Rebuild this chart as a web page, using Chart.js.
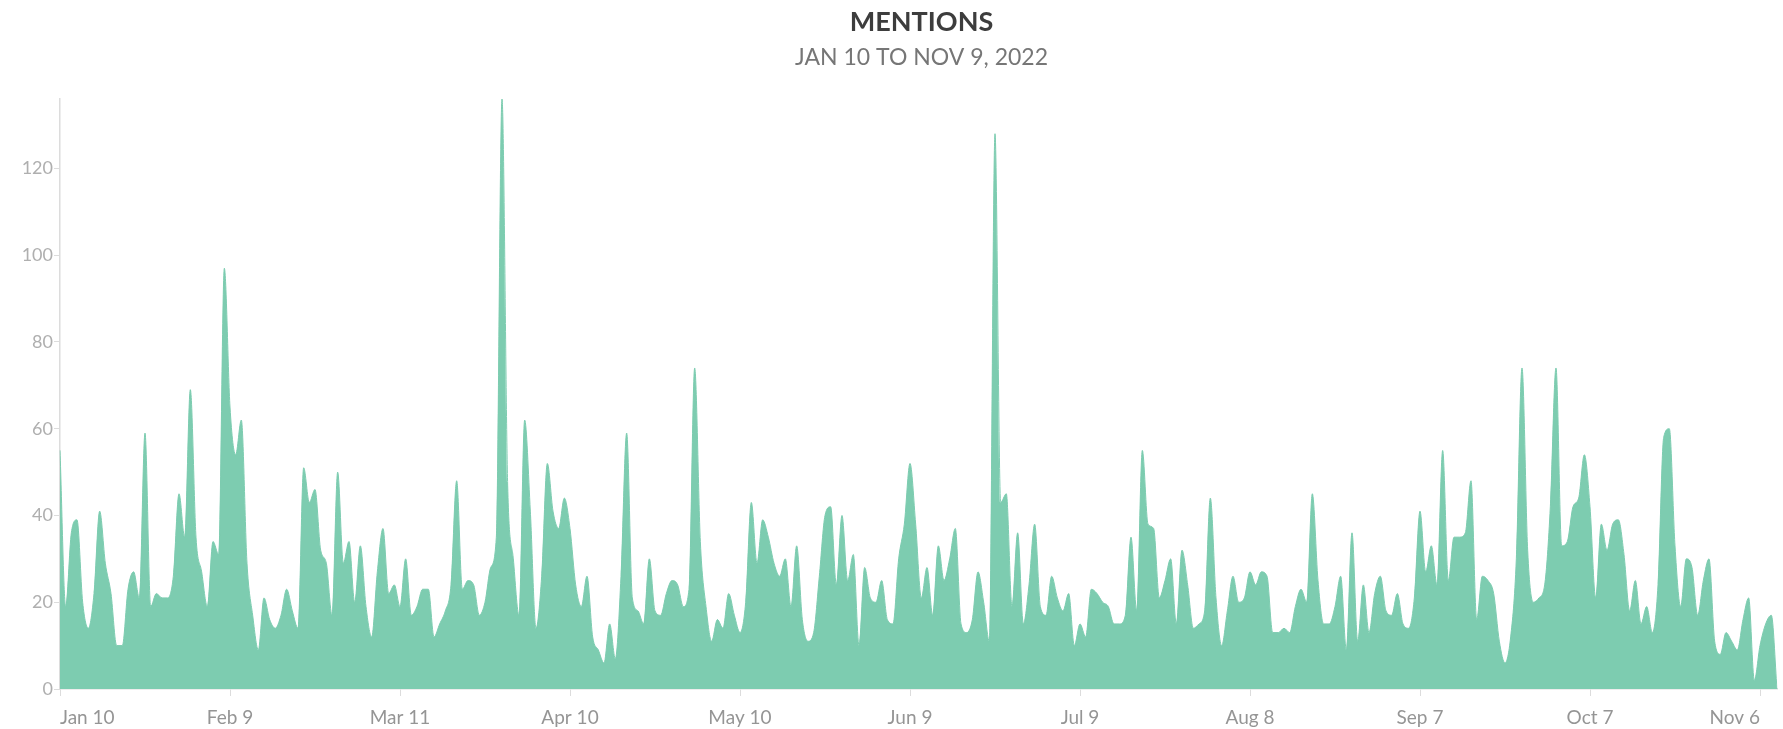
<!DOCTYPE html>
<html>
<head>
<meta charset="utf-8">
<title>Mentions</title>
<script src="https://cdn.jsdelivr.net/npm/chart.js@4.4.1/dist/chart.umd.min.js"></script>
<style>
  html, body { margin: 0; padding: 0; background: #fff; }
  #wrap { width: 1783px; height: 729px; }
</style>
</head>
<body>
<div id="wrap"><canvas id="chart"></canvas></div>
<script>
// daily mentions, Jan 10 -> Nov 9 2022, one array per month
const jan = [55, 19, 36, 39, 20, 14, 22, 41, 29, 22, 10, 10, 23, 27, 21, 59, 19, 22, 21, 21, 26, 45];
const feb = [35, 69, 35, 27, 19, 34, 31, 97, 65, 54, 62, 29, 17, 9, 21, 16, 14, 17, 23, 18, 14, 51, 43, 46, 32, 29, 17, 50];
const mar = [29, 34, 20, 33, 19, 12, 27, 37, 22, 24, 19, 30, 17, 19, 23, 23, 12, 15, 18, 24, 48, 23, 25, 24, 17, 20, 28, 35, 136, 47, 30];
const apr = [17, 62, 41, 14, 26, 52, 41, 37, 44, 37, 24, 19, 26, 12, 9, 6, 15, 7, 26, 59, 21, 18, 15, 30, 18, 17, 22, 25, 24, 19];
const may = [23, 74, 34, 19, 11, 16, 14, 22, 17, 13, 20, 43, 29, 39, 35, 29, 26, 30, 19, 33, 16, 11, 13, 26, 40, 42, 24, 40, 25, 31, 10];
const jun = [28, 21, 20, 25, 16, 15, 30, 38, 52, 38, 21, 28, 17, 33, 25, 30, 37, 15, 13, 16, 27, 20, 11, 128, 43, 45, 19, 36, 15, 24];
const jul = [38, 19, 17, 26, 21, 18, 22, 10, 15, 12, 23, 22, 20, 19, 15, 15, 17, 35, 18, 55, 38, 37, 21, 25, 30, 15, 32, 24, 14, 15, 18];
const aug = [44, 21, 10, 18, 26, 20, 21, 27, 24, 27, 26, 13, 13, 14, 13, 19, 23, 20, 45, 25, 15, 15, 19, 26, 9, 36, 11, 24, 13, 22, 26];
const sep = [18, 17, 22, 15, 14, 21, 41, 27, 33, 24, 55, 25, 35, 35, 36, 48, 16, 26, 25, 22, 11, 6, 12, 30, 74, 32, 20, 21, 24, 42];
const oct = [74, 33, 34, 42, 44, 54, 42, 21, 38, 32, 38, 39, 31, 18, 25, 15, 19, 13, 24, 58, 60, 33, 19, 30, 28, 17, 25, 30, 11, 8, 13];
const nov = [11, 9, 16, 21, 2, 10, 15, 17, 0];

const mentions = [].concat(jan, feb, mar, apr, may, jun, jul, aug, sep, oct, nov);

// one label per day
const start = new Date(2022, 0, 10);
const days = mentions.map((_, i) => {
  const d = new Date(start);
  d.setDate(start.getDate() + i);
  return d.toLocaleDateString('en-US', { month: 'short', day: 'numeric' });
});

// axis labels every 30 days
const tickLabels = ['Jan 10', 'Feb 9', 'Mar 11', 'Apr 10', 'May 10', 'Jun 9', 'Jul 9', 'Aug 8', 'Sep 7', 'Oct 7', 'Nov 6'];
const tickEvery = 30;
const yTicks = [0, 20, 40, 60, 80, 100, 120];

const green = '#7dccb0';
const axisGrey = '#dcdcdc';

// center the title and subtitle on the plot area instead of the canvas
const centerTitles = {
  id: 'centerTitles',
  afterLayout(chart) {
    const area = chart.chartArea;
    chart.boxes.forEach(b => {
      if (b.position === 'top' && b.options && b.options.text !== undefined) {
        b.left = area.left + 3;
        b.right = area.right + 3;
      }
    });
  }
};

new Chart(document.getElementById('chart'), {
  type: 'line',
  data: {
    labels: days,
    datasets: [{
      label: 'Mentions',
      data: mentions,
      fill: 'origin',
      backgroundColor: green,
      borderColor: green,
      borderWidth: 1,
      pointRadius: 0,
      cubicInterpolationMode: 'monotone'
    }]
  },
  plugins: [centerTitles],
  options: {
    responsive: true,
    maintainAspectRatio: false,
    animation: false,
    layout: { padding: { top: 0, right: 6, bottom: 0, left: 0 } },
    plugins: {
      legend: { display: false },
      tooltip: { enabled: false },
      title: {
        display: true,
        text: 'MENTIONS',
        color: '#3d3d3d',
        font: { family: 'Lato', size: 27, weight: 'bold', lineHeight: 1.2 },
        padding: { top: 6, bottom: 0 }
      },
      subtitle: {
        display: true,
        text: 'JAN 10 TO NOV 9, 2022',
        color: '#767676',
        font: { family: 'Lato', size: 23, lineHeight: 1.2 },
        padding: { top: 5, bottom: 28 }
      }
    },
    scales: {
      x: {
        type: 'category',
        grid: { drawOnChartArea: false, drawTicks: true, tickLength: 7, color: axisGrey },
        border: { display: true, color: axisGrey, width: 1.5 },
        afterBuildTicks: (scale) => {
          scale.ticks = scale.ticks.filter(t => t.value % tickEvery === 0);
        },
        afterFit: (scale) => { scale.height = 40; },
        ticks: {
          autoSkip: false,
          maxRotation: 0,
          align: 'inner',
          padding: 10,
          color: '#959595',
          font: { family: 'Lato', size: 19 },
          callback: (v) => tickLabels[v / tickEvery]
        }
      },
      y: {
        min: 0,
        max: 136,
        grid: { drawOnChartArea: false, drawTicks: true, tickLength: 6, color: axisGrey },
        border: { display: true, color: axisGrey, width: 1.5 },
        afterBuildTicks: (scale) => {
          scale.ticks = yTicks.map(v => ({ value: v }));
        },
        afterFit: (scale) => { scale.width = 60; },
        ticks: {
          padding: 1,
          color: '#afafaf',
          font: { family: 'Lato', size: 18 }
        }
      }
    }
  }
});
</script>
</body>
</html>
